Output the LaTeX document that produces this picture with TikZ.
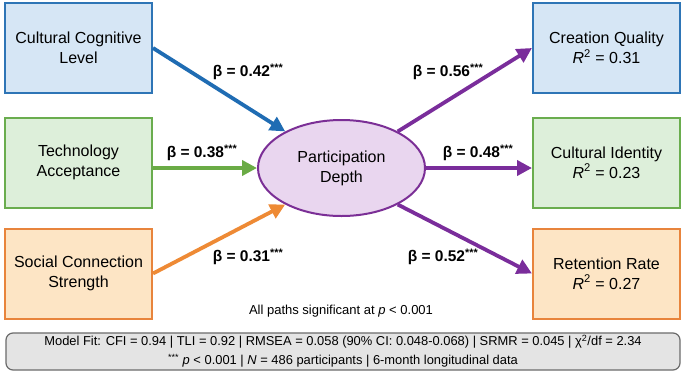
\documentclass[tikz,border=0pt]{standalone}
\usepackage{fontspec}
\setmainfont{Liberation Sans}
\usetikzlibrary{arrows.meta,shapes.geometric}
\definecolor{bluefill}{HTML}{D6E6F5}
\definecolor{blueline}{HTML}{2E75B6}
\definecolor{bluearrow}{HTML}{1F6CB3}
\definecolor{greenfill}{HTML}{DDEFDA}
\definecolor{greenline}{HTML}{6AAD4E}
\definecolor{greenarrow}{HTML}{6AAB45}
\definecolor{orangefill}{HTML}{FDE5C5}
\definecolor{orangeline}{HTML}{E8843C}
\definecolor{orangearrow}{HTML}{EE8A35}
\definecolor{purplefill}{HTML}{E9D6EF}
\definecolor{purpleline}{HTML}{7B2F96}
\definecolor{purplearrow}{HTML}{7A2D9B}
\definecolor{footfill}{HTML}{E4E4E4}
\definecolor{footline}{HTML}{6B6B6B}
\begin{document}
\begin{tikzpicture}[x=1pt,y=-1pt,
  varbox/.style={draw, line width=2pt, minimum width=147pt, minimum height=90pt, align=center, font=\fontsize{16}{20}\selectfont, inner sep=0pt},
  bluebox/.style={varbox, fill=bluefill, draw=blueline},
  greenbox/.style={varbox, fill=greenfill, draw=greenline},
  orangebox/.style={varbox, fill=orangefill, draw=orangeline},
  path/.style={line width=3.8pt, -{Triangle[length=15pt,width=15pt]}},
  coef/.style={font=\bfseries\fontsize{15.5}{18}\selectfont, inner sep=1pt}
]
\useasboundingbox (0,0) rectangle (685,373);
\fill[white] (0,0) rectangle (685,373);

\node[bluebox]   (ccl) at (78.5,48)    {Cultural Cognitive\\Level};
\node[greenbox]  (ta)  at (78.5,162.5) {Technology\\Acceptance};
\node[orangebox] (scs) at (78.5,273.5) {Social Connection\\Strength};

\node[bluebox]   (cq) at (606.5,48)    {Creation Quality\\\textit{R}\textsuperscript{2} = 0.31};
\node[greenbox]  (ci) at (606.5,162.5) {Cultural Identity\\\textit{R}\textsuperscript{2} = 0.23};
\node[orangebox] (rr) at (606.5,273.5) {Retention Rate\\\textit{R}\textsuperscript{2} = 0.27};

\node[ellipse, draw=purpleline, fill=purplefill, line width=2pt, minimum width=167pt, minimum height=96pt, inner sep=0pt, align=center, font=\fontsize{16}{20}\selectfont] (pd) at (341.5,168) {Participation\\Depth};

\draw[path, bluearrow] (ccl.east) -- (pd.147);
\draw[path, greenarrow] (ta.east |- pd.west) -- (pd.west);
\draw[path, orangearrow] (scs.east) -- (pd.213);

\draw[path, purplearrow] (pd.33) -- (cq.west);
\draw[path, purplearrow] (pd.east) -- (ci.west |- pd.east);
\draw[path, purplearrow] (pd.327) -- (rr.west);

\node[coef] (l1) at (248,72)  {β = 0.42\textsuperscript{***}};
\node[coef] (l2) at (202,153) {β = 0.38\textsuperscript{***}};
\node[coef] (l3) at (248,257) {β = 0.31\textsuperscript{***}};
\node[coef] (l4) at (448,72)  {β = 0.56\textsuperscript{***}};
\node[coef] (l5) at (478,153) {β = 0.48\textsuperscript{***}};
\node[coef] (l6) at (443,257) {β = 0.52\textsuperscript{***}};

\node[font=\fontsize{13}{15}\selectfont] (note) at (341,311) {All paths significant at \textit{p} < 0.001};

\node[draw=footline, fill=footfill, line width=1.2pt, rounded corners=7pt, minimum width=674pt, minimum height=37pt, align=center, font=\fontsize{12.9}{19}\selectfont, inner sep=0pt] (foot) at (343,351.5) {Model Fit: CFI = 0.94 | TLI = 0.92 | RMSEA = 0.058 (90\% CI: 0.048-0.068) | SRMR = 0.045 | χ\textsuperscript{2}/df = 2.34\\\textsuperscript{***} \textit{p} < 0.001 | \textit{N} = 486 participants | 6-month longitudinal data};
\end{tikzpicture}
\end{document}
